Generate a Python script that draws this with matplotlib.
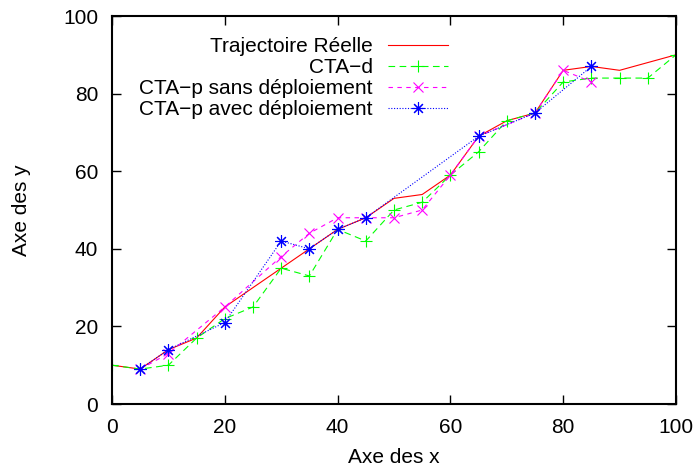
import matplotlib
matplotlib.use('Agg')
import matplotlib.pyplot as plt

plt.rcParams['font.family'] = ['Liberation Sans', 'DejaVu Sans']
plt.rcParams['font.size'] = 15

# Trajectoire Réelle
x_reel = [0, 5, 10, 15, 20, 25, 30, 35, 40, 45, 50, 55, 60, 65, 70, 75, 80, 85, 90, 100]
y_reel = [10, 9, 14, 17, 25, 30, 35, 40, 45, 48, 53, 54, 59, 69, 73, 75, 86, 87, 86, 90]

# CTA-d
x_ctad = [0, 5, 10, 15, 20, 25, 30, 35, 40, 45, 50, 55, 60, 65, 70, 75, 80, 85, 90, 95, 100]
y_ctad = [10, 9, 10, 17, 22, 25, 35, 33, 45, 42, 50, 52, 59, 65, 73, 75, 83, 84, 84, 84, 90]

# CTA-p sans deploiement
x_sans = [5, 10, 20, 30, 35, 40, 45, 50, 55, 60, 65, 75, 80, 85]
y_sans = [9, 13, 25, 38, 44, 48, 48, 48, 50, 59, 69, 75, 86, 83]

# CTA-p avec deploiement
x_avec = [5, 10, 20, 30, 35, 40, 45, 65, 75, 85]
y_avec = [9, 14, 21, 42, 40, 45, 48, 69, 75, 87]

fig = plt.figure(figsize=(6.97, 4.71), dpi=100)
ax = fig.add_axes([112 / 697, 1 - 404 / 471, 564 / 697, 388 / 471])

lw = 0.8
ax.plot(x_reel, y_reel, color='#ff0000', lw=lw, label='Trajectoire Réelle')
ax.plot(x_ctad, y_ctad, color='#00ff00', lw=lw, ls=(0, (6, 4)), marker='+',
        ms=8.5, mew=lw, label='CTA\u2212d')
ax.plot(x_sans, y_sans, color='#ff00ff', lw=lw, ls=(0, (4, 4)), marker='x',
        ms=7.5, mew=lw, label='CTA\u2212p sans déploiement')
ax.plot(x_avec, y_avec, color='#0000ff', lw=lw, ls=(0, (1, 1.5)), marker=(8, 2, 0),
        ms=9, mew=lw, label='CTA\u2212p avec déploiement')

ax.set_xlim(0, 100)
ax.set_ylim(0, 100)
ax.set_xticks(range(0, 101, 20))
ax.set_yticks(range(0, 101, 20))
ax.tick_params(direction='in', length=6.5, width=1, top=True, right=True)
ax.tick_params(axis='x', pad=10)
ax.tick_params(axis='y', pad=10)
for s in ax.spines.values():
    s.set_linewidth(1.5)

ax.set_xlabel('Axe des x', labelpad=8)
ax.set_ylabel('Axe des y', labelpad=23)

leg = ax.legend(loc='upper right', bbox_to_anchor=(448 / 697, 1 - 37 / 471),
                bbox_transform=fig.transFigure, frameon=False, markerfirst=False,
                borderpad=0, handlelength=2.9, handletextpad=0.7, labelspacing=0.1,
                borderaxespad=0)

fig.savefig('out.png', dpi=100)
